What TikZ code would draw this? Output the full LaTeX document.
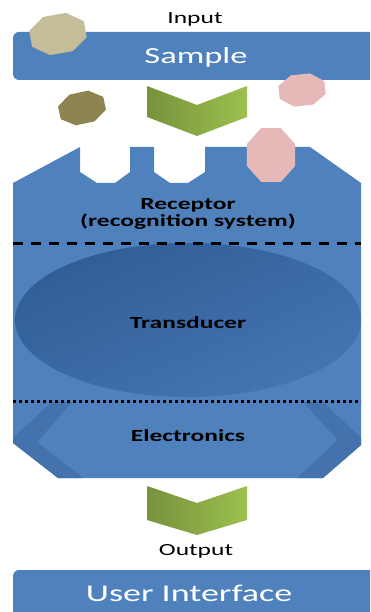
\documentclass[tikz,border=0pt]{standalone}
\usepackage{fontspec}
\setmainfont{Carlito}
\usetikzlibrary{shadings}
\definecolor{barblue}{HTML}{4F81BD}
\definecolor{bodyblue}{HTML}{4F81BD}
\definecolor{bandblue}{HTML}{4372AD}
\definecolor{ellA}{HTML}{2D5A8E}
\definecolor{ellB}{HTML}{3A69A6}
\definecolor{ellC}{HTML}{4879B8}
\definecolor{gDark}{HTML}{76923C}
\definecolor{gLight}{HTML}{9DC04F}
\definecolor{tanc}{HTML}{C4BD97}
\definecolor{olivec}{HTML}{8E8450}
\definecolor{pinkc}{HTML}{E6B9B8}
\newcommand{\wid}[1]{\scalebox{1.5}[1]{#1}}
\newcommand{\octagon}[6]{%
  \fill[#6, shift={(#1,#2)}, rotate=#5]
    plot[samples at={22.5,67.5,...,337.5}] ({#3*cos(\x)},{#4*sin(\x)}) -- cycle;}
\tikzset{
  lbl/.style={inner sep=0pt, text=black},
  wlbl/.style={inner sep=0pt, text=white},
  chevron/.style={left color=gDark, right color=gLight},
}
\begin{document}
\begin{tikzpicture}[x=1pt,y=-1pt]
\useasboundingbox (0,0) rectangle (370,612);
\clip (0,0) rectangle (370,612);
% Sample bar
\fill[barblue, rounded corners=6pt] (13,32) rectangle (385,80);
% body
\fill[bodyblue] (13,183) -- (80,147) -- (80,172) -- (97,183) -- (115,183) -- (130,172) -- (130,147)
  -- (154,147) -- (154,172) -- (170,183) -- (188,183) -- (205,172) -- (205,147)
  -- (310,147) -- (361,183) -- (361,445) -- (323,478) -- (58,478) -- (13,443) -- cycle;
% transducer ellipse
\begin{scope}
\clip (13,240) rectangle (361,400);
\shade[upper left=ellA, upper right=ellB, lower left=ellB, lower right=ellC] (188,320) ellipse [x radius=173, y radius=77];
\end{scope}
% electronics bands
\fill[bandblue] (52,402) -- (72,402) -- (37,442) -- (83,478) -- (58,478) -- (13,443) -- (13,438) -- cycle;
\fill[bandblue] (303,402) -- (323,402) -- (361,438) -- (361,445) -- (323,478) -- (297,478) -- (338,440) -- cycle;
% separators
\draw[black, line width=3pt, dash pattern=on 10pt off 8pt] (13,243) -- (361,243);
\draw[black, line width=3pt, dash pattern=on 3pt off 3pt] (13,401) -- (361,401);
% User interface bar
\fill[barblue, rounded corners=6pt] (13,570) rectangle (385,630);
% chevrons
\shade[chevron] (147,86) -- (197,105) -- (247,86) -- (247,117) -- (197,136) -- (147,117) -- cycle;
\shade[chevron] (147,486) -- (197,503) -- (247,486) -- (247,520) -- (197,535) -- (147,520) -- cycle;
% particles
\octagon{58}{34}{30}{21}{10}{tanc}
\octagon{82}{108}{25}{17}{12}{olivec}
\octagon{302}{90}{25}{17}{6}{pinkc}
\octagon{271}{155}{26}{29}{0}{pinkc}
% texts
\node[lbl, font=\fontsize{17}{19}\selectfont] (input) at (195,19) {\wid{Input}};
\node[wlbl, font=\fontsize{23}{25}\selectfont] (sample) at (196,57) {\wid{Sample}};
\node[lbl, font=\fontsize{17}{19}\selectfont\bfseries, align=center] (receptor) at (188,214) {\wid{Receptor}\\[-2pt]\wid{(recognition system)}};
\node[lbl, font=\fontsize{17}{19}\selectfont\bfseries] (transducer) at (188,323) {\wid{Transducer}};
\node[lbl, font=\fontsize{17}{19}\selectfont\bfseries] (electronics) at (188,436) {\wid{Electronics}};
\node[lbl, font=\fontsize{17}{19}\selectfont] (output) at (196,551) {\wid{Output}};
\node[wlbl, font=\fontsize{24}{26}\selectfont] (ui) at (189,593) {\wid{User Interface}};
\end{tikzpicture}
\end{document}
